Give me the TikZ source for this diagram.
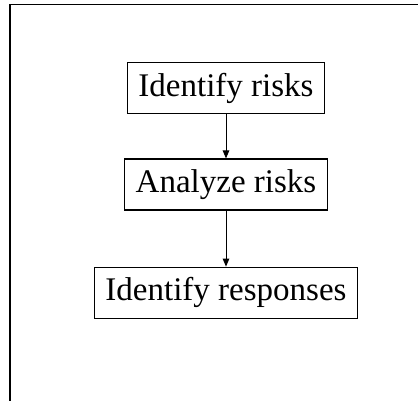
\documentclass[tikz,border=0pt]{standalone}
\usepackage{fontspec}
\setmainfont{Liberation Serif}
\usetikzlibrary{arrows.meta}
\begin{document}
\begin{tikzpicture}[x=1pt,y=1pt,
  stepbox/.style={draw=black,line width=1.1pt,fill=white,inner xsep=11pt,inner ysep=0pt,minimum height=51pt,font=\fontsize{33}{36}\selectfont},
  flow/.style={draw=black,line width=1pt,-{Triangle[length=8pt,width=6.5pt]}}]
\useasboundingbox (0,0) rectangle (418,401);
\coordinate (tl) at (10,396.5);
\coordinate (tr) at (418,396.5);
\coordinate (bl) at (10,0);
\draw[line width=1.4pt] (tr) -- (tl) -- (bl);
\node[stepbox] (a) at (226,312.6) {Identify risks};
\node[stepbox] (b) at (226,216.5) {Analyze risks};
\node[stepbox] (c) at (226,108.3) {Identify responses};
\draw[flow] (a) -- (b);
\draw[flow] (b) -- (c);
\end{tikzpicture}
\end{document}
